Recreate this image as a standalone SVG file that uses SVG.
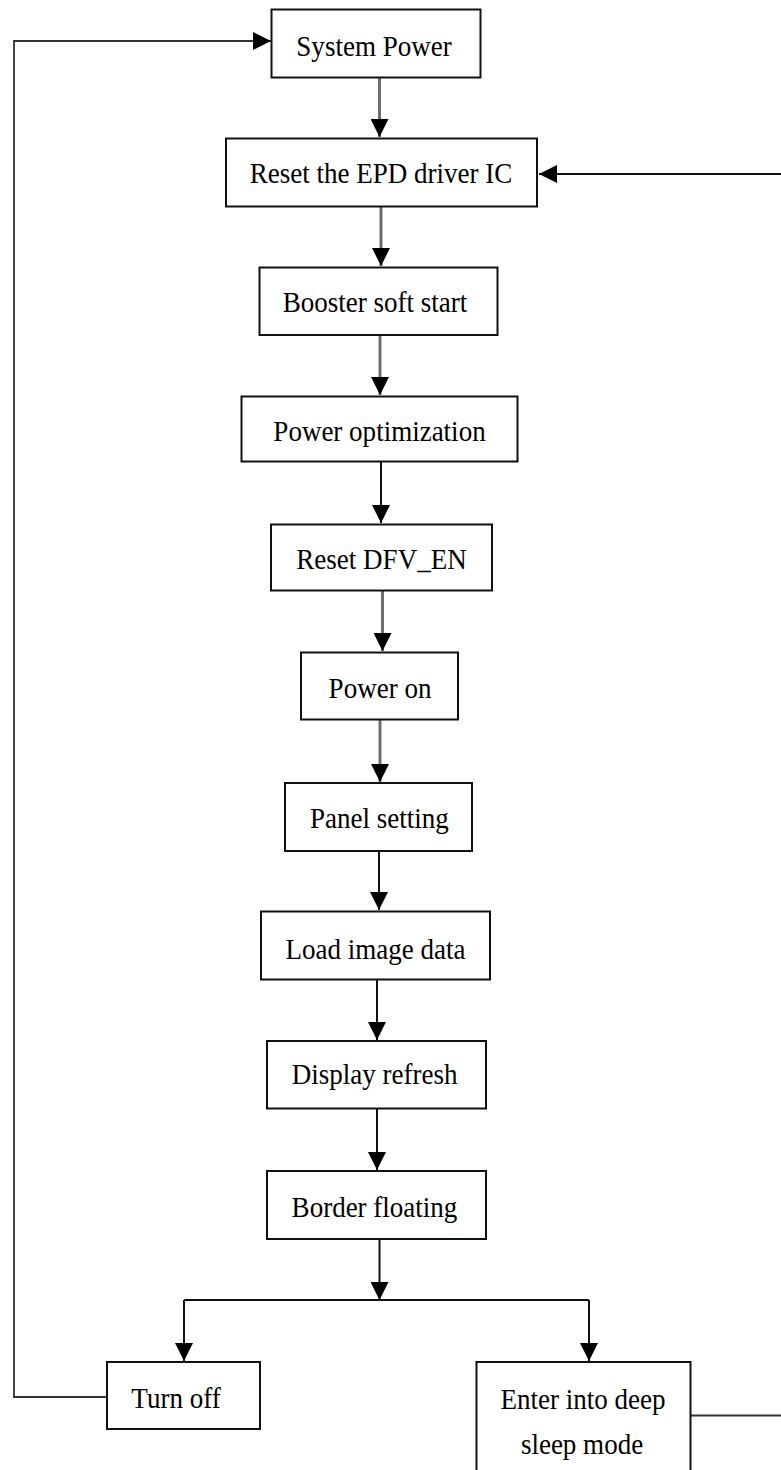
<svg xmlns="http://www.w3.org/2000/svg" width="781" height="1470" viewBox="0 0 781 1470">
<style>
.box{fill:#fff;stroke:#111;stroke-width:2}
.lbl{font-family:"Liberation Serif","Times New Roman",serif;font-size:29.7px;fill:#000;text-anchor:middle}
.grey{stroke:#6e6e6e;stroke-width:3;fill:none}
.blk{stroke:#111;stroke-width:2;fill:none}
.loop{stroke:#333;stroke-width:1.8;fill:none}
</style>
<defs>
<marker id="ah" markerUnits="userSpaceOnUse" markerWidth="18" markerHeight="18" viewBox="0 0 18 18" refX="18" refY="9" orient="auto">
<path d="M0,0 L18,9 L0,18 Z" fill="#000"/>
</marker>
</defs>
<g id="connectors">
<polyline class="loop" points="208,1397 14,1397 14,41 271,41" marker-end="url(#ah)"/>
<line class="loop" x1="690" y1="1415.5" x2="781" y2="1415.5"/>
<line class="blk" x1="781" y1="174" x2="539" y2="174" marker-end="url(#ah)"/>
<line class="grey" x1="379.5" y1="77" x2="379.5" y2="137" marker-end="url(#ah)"/>
<line class="grey" x1="381" y1="207" x2="381" y2="266" marker-end="url(#ah)"/>
<line class="grey" x1="380" y1="335" x2="380" y2="395" marker-end="url(#ah)"/>
<line class="blk" x1="381" y1="462" x2="381" y2="523" marker-end="url(#ah)"/>
<line class="grey" x1="382.5" y1="591" x2="382.5" y2="651" marker-end="url(#ah)"/>
<line class="grey" x1="380" y1="719" x2="380" y2="782" marker-end="url(#ah)"/>
<line class="blk" x1="379" y1="851" x2="379" y2="910" marker-end="url(#ah)"/>
<line class="blk" x1="377" y1="979" x2="377" y2="1040" marker-end="url(#ah)"/>
<line class="blk" x1="377" y1="1108" x2="377" y2="1170" marker-end="url(#ah)"/>
<line class="blk" x1="379.5" y1="1239" x2="379.5" y2="1300" marker-end="url(#ah)"/>
<line class="blk" x1="184" y1="1300" x2="589" y2="1300"/>
<line class="blk" x1="184" y1="1300" x2="184" y2="1361" marker-end="url(#ah)"/>
<line class="blk" x1="589" y1="1300" x2="589" y2="1361" marker-end="url(#ah)"/>
</g>
<g id="n-system-power"><rect class="box" x="271.5" y="9.5" width="209" height="68"/><text class="lbl" transform="translate(374 56) scale(0.91 1)">System Power</text></g>
<g id="n-reset-epd"><rect class="box" x="226" y="138.5" width="311" height="68"/><text class="lbl" transform="translate(381 183) scale(0.91 1)">Reset the EPD driver IC</text></g>
<g id="n-booster"><rect class="box" x="259.5" y="267.5" width="238" height="67.5"/><text class="lbl" transform="translate(375 312) scale(0.91 1)">Booster soft start</text></g>
<g id="n-power-opt"><rect class="box" x="241.5" y="396.5" width="276" height="65"/><text class="lbl" transform="translate(379.5 441) scale(0.91 1)">Power optimization</text></g>
<g id="n-reset-dfv"><rect class="box" x="271" y="524.5" width="221" height="66"/><text class="lbl" transform="translate(381.5 569) scale(0.91 1)">Reset DFV_EN</text></g>
<g id="n-power-on"><rect class="box" x="301" y="652.5" width="157" height="67"/><text class="lbl" transform="translate(380 698) scale(0.91 1)">Power on</text></g>
<g id="n-panel"><rect class="box" x="285" y="783" width="187" height="68"/><text class="lbl" transform="translate(379.3 828) scale(0.91 1)">Panel setting</text></g>
<g id="n-load"><rect class="box" x="261" y="911.5" width="229" height="68"/><text class="lbl" transform="translate(375.5 959) scale(0.91 1)">Load image data</text></g>
<g id="n-display"><rect class="box" x="267" y="1041" width="219" height="67.5"/><text class="lbl" transform="translate(374.7 1084) scale(0.91 1)">Display refresh</text></g>
<g id="n-border"><rect class="box" x="267" y="1171" width="219" height="68"/><text class="lbl" transform="translate(374.5 1217) scale(0.91 1)">Border floating</text></g>
<g id="n-turn-off"><rect class="box" x="107" y="1362" width="153" height="67"/><text class="lbl" transform="translate(176 1408) scale(0.91 1)">Turn off</text></g>
<g id="n-deep-sleep"><rect class="box" x="476.5" y="1362" width="214" height="120"/><text class="lbl" transform="translate(583 1409) scale(0.91 1)">Enter into deep</text><text class="lbl" transform="translate(582 1454) scale(0.91 1)">sleep mode</text></g>
</svg>
